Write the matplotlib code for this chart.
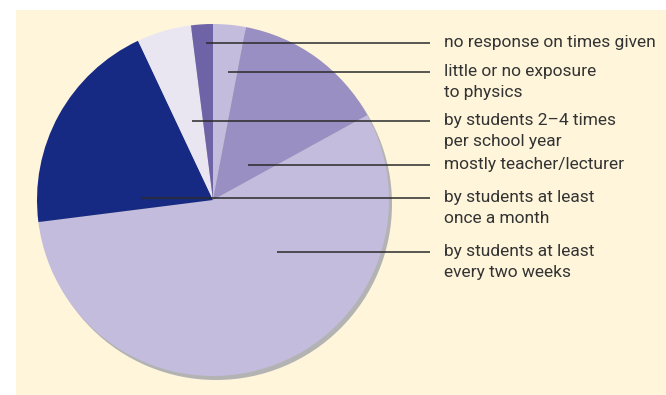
import matplotlib.pyplot as plt
from matplotlib.patches import Rectangle, Circle

# Share of responses, clockwise from 12 o'clock
categories = [
    "little or no exposure\nto physics",
    "mostly teacher/lecturer",
    "by students at least\nevery two weeks",
    "by students at least\nonce a month",
    "by students 2\u20134 times\nper school year",
    "no response on times given",
]
shares = [3, 14, 56, 20, 5, 2]
colors = ["#c3bcdc", "#9a8fc2", "#c3bcdc", "#172a83", "#e9e6f2", "#6e63a6"]

# Leader line starts (x, y) in pixel space
leader_start = [(228, 72), (248, 165), (277, 252), (141, 198), (192, 121), (206, 43)]

W, H = 666, 395
fig = plt.figure(figsize=(W / 100, H / 100), dpi=100)
fig.patch.set_facecolor("white")
ax = fig.add_axes([0, 0, 1, 1])

# Cream panel
ax.add_patch(Rectangle((16, 10), W - 16, H - 10, facecolor="#fef5db", edgecolor="none", zorder=0))

cx, cy, r = 213, 200, 176
# Drop shadow behind the pie
ax.add_patch(Circle((cx + 3, cy + 4), r, facecolor="#b3b3b3", edgecolor="none", zorder=1))

# y runs downward, so counterclockwise in data is clockwise on screen
wedges, _ = ax.pie(
    shares,
    colors=colors,
    startangle=-90,
    counterclock=True,
    center=(cx, cy),
    radius=r,
    frame=True,
    wedgeprops=dict(linewidth=0),
)
for w in wedges:
    w.set_zorder(2)
ax.set_xlim(0, W)
ax.set_ylim(H, 0)
ax.set_aspect("equal")
ax.axis("off")

font = ["Roboto", "DejaVu Sans"]
line_end = 430
text_x = 444
row_gap = 21
for label, (x0, y0) in zip(categories, leader_start):
    ax.plot([x0, line_end], [y0, y0], color="#2a2a2a", lw=1.1, zorder=3, solid_capstyle="butt")
    for i, row in enumerate(label.split("\n")):
        ax.text(text_x, y0 + 4 + i * row_gap, row, ha="left", va="baseline", fontsize=12.5,
                family=font, color="#333333", zorder=3)

fig.savefig("out.png", dpi=100)
